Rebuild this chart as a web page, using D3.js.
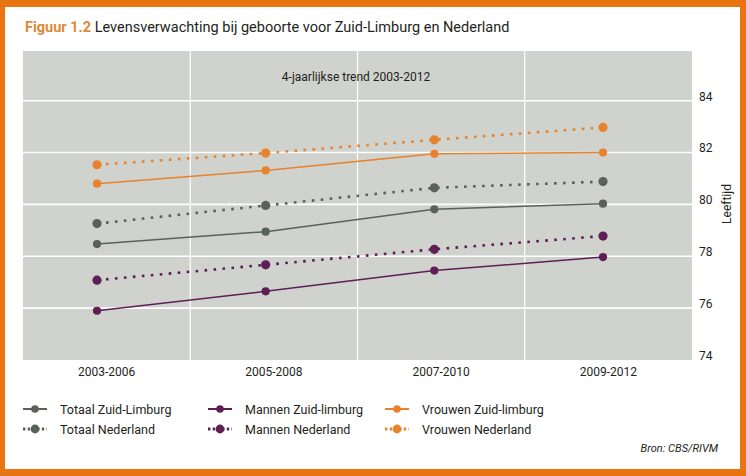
<!DOCTYPE html>
<html><head><meta charset="utf-8">
<script src="https://cdn.jsdelivr.net/npm/d3@7"></script>
<style>
html,body{margin:0;padding:0;background:#fff;}
text{font-family:Roboto,"DejaVu Sans",sans-serif;}
</style></head>
<body><svg id="c" width="746" height="476"></svg>
<script>
const categories = ["2003-2006","2005-2008","2007-2010","2009-2012"];
const yTicks = [74,76,78,80,82,84];
const totaalZL  = [78.47, 78.95, 79.81, 80.03];
const totaalNL  = [79.26, 79.96, 80.64, 80.88];
const mannenZL  = [75.90, 76.65, 77.45, 77.97];
const mannenNL  = [77.08, 77.67, 78.27, 78.78];
const vrouwenZL = [80.80, 81.31, 81.95, 82.00];
const vrouwenNL = [81.53, 81.98, 82.49, 82.97];
const seriesNames = ["Totaal Zuid-Limburg","Totaal Nederland","Mannen Zuid-limburg","Mannen Nederland","Vrouwen Zuid-limburg","Vrouwen Nederland"];

const C = {gray:"#5a615b", purple:"#5d1f56", orange:"#e8822c"};
const series = [
  {name:seriesNames[0], values:totaalZL, color:C.gray, dotted:false},
  {name:seriesNames[1], values:totaalNL, color:C.gray, dotted:true},
  {name:seriesNames[2], values:mannenZL, color:C.purple, dotted:false},
  {name:seriesNames[3], values:mannenNL, color:C.purple, dotted:true},
  {name:seriesNames[4], values:vrouwenZL, color:C.orange, dotted:false},
  {name:seriesNames[5], values:vrouwenNL, color:C.orange, dotted:true}
];

const svg = d3.select("#c");
// frame
svg.append("rect").attr("x",0).attr("y",0).attr("width",746).attr("height",476).attr("fill","#e8750f");
svg.append("rect").attr("x",5).attr("y",7).attr("width",735).attr("height",462).attr("fill","#ffffff");

// title
const title = svg.append("text").attr("x",25).attr("y",32).attr("font-size",14.5);
title.append("tspan").attr("font-weight","bold").attr("fill","#dc8a3c").text("Figuur 1.2");
title.append("tspan").attr("fill","#231f20").text(" Levensverwachting bij geboorte voor Zuid-Limburg en Nederland");

// panel
const pL=23, pR=692, pT=51, pB=360;
svg.append("rect").attr("x",pL).attr("y",pT).attr("width",pR-pL).attr("height",pB-pT).attr("fill","#cfd2cd");

const xBand = d3.scaleBand().domain(categories).range([pL,pR]).padding(0);
const xPt = d3.scalePoint().domain(categories).range([97,603]);
const y = d3.scaleLinear().domain([74,84]).range([pB,100.7]);

// vertical gridlines
svg.append("g").selectAll("line").data(categories.slice(1)).join("line")
  .attr("x1",d=>xBand(d)).attr("x2",d=>xBand(d)).attr("y1",pT).attr("y2",pB)
  .attr("stroke","#fff").attr("stroke-width",1.2);
// horizontal gridlines
svg.append("g").selectAll("line").data(yTicks.filter(t=>t>74)).join("line")
  .attr("x1",pL).attr("x2",pR).attr("y1",d=>y(d)).attr("y2",d=>y(d))
  .attr("stroke","#fff").attr("stroke-width",1.6);

// y axis (right)
const yAxis = d3.axisRight(y).tickValues(yTicks).tickSize(0).tickPadding(0);
const gy = svg.append("g").attr("transform",`translate(699,0)`).call(yAxis);
gy.select(".domain").remove();
gy.selectAll("text").attr("font-size",12).attr("fill","#231f20").attr("dy","-0.05em")
  .attr("font-family","Roboto, sans-serif");

svg.append("text").attr("transform","translate(731,204) rotate(-90)").attr("text-anchor","middle")
  .attr("font-size",12).attr("fill","#231f20").text("Leeftijd");

// x axis labels
const xAxis = d3.axisBottom(xBand).tickSize(0).tickPadding(0);
const gx = svg.append("g").attr("transform",`translate(0,${pB})`).call(xAxis);
gx.select(".domain").remove();
gx.selectAll("text").attr("font-size",12).attr("fill","#231f20").attr("dy","1.3em")
  .attr("font-family","Roboto, sans-serif");

// subtitle
svg.append("text").attr("x",356).attr("y",81).attr("text-anchor","middle").attr("font-size",12)
  .attr("fill","#231f20").text("4-jaarlijkse trend 2003-2012");

// lines
const line = d3.line().x((d,i)=>xPt(categories[i])).y(d=>y(d));
const gs = svg.append("g").selectAll("g").data(series).join("g");
gs.append("path").attr("d",d=>line(d.values)).attr("fill","none").attr("stroke",d=>d.color)
  .attr("stroke-width",d=>d.dotted?2.6:1.5)
  .attr("stroke-dasharray",d=>d.dotted?"2.6,6.4":null);
gs.selectAll("circle").data(d=>d.values.map(v=>({v,s:d}))).join("circle")
  .attr("cx",(d,i)=>xPt(categories[i])).attr("cy",d=>y(d.v))
  .attr("r",d=>d.s.dotted?4.6:4.1).attr("fill",d=>d.s.color);

// legend
const legX = [23,208,385], legY=[413.5,433.5];
series.forEach((s,i)=>{
  const col=Math.floor(i/2), row=i%2;
  const x0=legX[col], yy=legY[row]-4.5;
  const g=svg.append("g");
  g.append("line").attr("x1",x0).attr("x2",x0+24).attr("y1",yy).attr("y2",yy)
    .attr("stroke",s.color).attr("stroke-width",s.dotted?3:2)
    .attr("stroke-dasharray",s.dotted?"2.4,2.3":null);
  g.append("circle").attr("cx",x0+12).attr("cy",yy).attr("r",s.dotted?4.4:3.8).attr("fill",s.color);
  g.append("text").attr("x",x0+37).attr("y",legY[row]).attr("font-size",12.5).attr("fill","#231f20").text(s.name);
});

svg.append("text").attr("x",718).attr("y",452).attr("text-anchor","end").attr("font-size",11)
  .attr("font-style","italic").attr("fill","#231f20").text("Bron: CBS/RIVM");
</script></body></html>
